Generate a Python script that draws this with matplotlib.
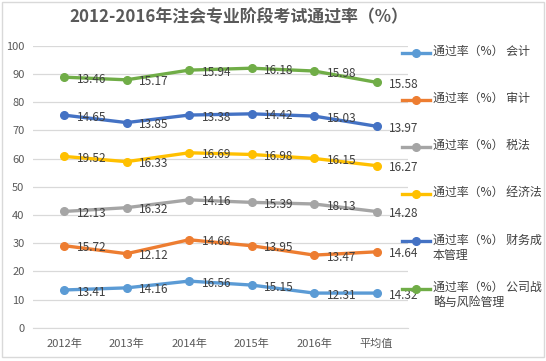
import matplotlib
matplotlib.use('Agg')
import matplotlib.pyplot as plt
from matplotlib.lines import Line2D
from matplotlib.patches import Rectangle
import numpy as np

plt.rcParams['font.family'] = ['Noto Sans CJK SC', 'DejaVu Sans']

categories = ['2012年', '2013年', '2014年', '2015年', '2016年', '平均值']

# 通过率（%），作为数据标签显示
kuaiji = [13.41, 14.16, 16.56, 15.15, 12.31, 14.32]
shenji = [15.72, 12.12, 14.66, 13.95, 13.47, 14.64]
shuifa = [12.13, 16.32, 14.16, 15.39, 18.13, 14.28]
jingjifa = [19.52, 16.33, 16.69, 16.98, 16.15, 16.27]
caiwu = [14.65, 13.85, 13.38, 14.42, 15.03, 13.97]
gongsi = [13.46, 15.17, 15.94, 16.18, 15.98, 15.58]

# 原图中“会计”平均值那一点画在 12.31 处（标签仍为 14.32）
kuaiji_plotted = [13.41, 14.16, 16.56, 15.15, 12.31, 12.31]

names = ['通过率（%） 会计', '通过率（%） 审计', '通过率（%） 税法',
         '通过率（%） 经济法', '通过率（%） 财务成\n本管理', '通过率（%） 公司战\n略与风险管理']
colors = ['#5B9BD5', '#ED7D31', '#A5A5A5', '#FFC000', '#4472C4', '#70AD47']

labels = [kuaiji, shenji, shuifa, jingjifa, caiwu, gongsi]
plotted = [kuaiji_plotted, shenji, shuifa, jingjifa, caiwu, gongsi]

fig = plt.figure(figsize=(5.46, 3.61), dpi=100)
ax = fig.add_axes([0.060, 0.092, 0.687, 0.781])

x = np.arange(len(categories))
cum = np.zeros(len(categories))
for vals, lab, c in zip(plotted, labels, colors):
    cum = cum + np.array(vals)
    ax.plot(x, cum, color=c, lw=2.4, marker='o', ms=5.5, zorder=3)
    for xi, yi, t in zip(x, cum, lab):
        ax.annotate(f'{t:.2f}', (xi, yi), xytext=(9, -1.5), textcoords='offset points',
                    ha='left', va='center', fontsize=8.5, color='#404040', zorder=4)

ax.set_xlim(-0.5, 5.5)
ax.set_ylim(0, 100)
ax.set_yticks(range(0, 101, 10))
ax.set_xticks(x)
ax.set_xticklabels(categories)
ax.tick_params(length=0, labelsize=8, colors='#595959', pad=8)
ax.tick_params(axis='y', pad=6)
ax.grid(axis='y', color='#D9D9D9', lw=0.9)
ax.set_axisbelow(True)
for s in ['top', 'right', 'left']:
    ax.spines[s].set_visible(False)
ax.spines['bottom'].set_color('#D9D9D9')

fig.text(0.438, 0.952, '2012-2016年注会专业阶段考试通过率（%）', ha='center', va='center',
         fontsize=12.2, fontweight='bold', color='#595959')

# 图例（手动排布）
W, H = 546, 361
for i, (name, c) in enumerate(zip(names, colors)):
    yp = 52.5 + i * 47.2
    fy = 1 - yp / H
    fig.add_artist(Line2D([402 / W, 430 / W], [fy, fy], color=c, lw=2.4,
                          transform=fig.transFigure))
    fig.add_artist(Line2D([416 / W], [fy], color=c, marker='o', ms=5.5,
                          transform=fig.transFigure))
    fig.text(433 / W, 1 - (yp - 7.8) / H, name, ha='left', va='top', fontsize=8.6,
             color='#404040', linespacing=1.2)

fig.add_artist(Rectangle((0.003, 0.01), 0.994, 0.985, transform=fig.transFigure,
                         fill=False, edgecolor='#D9D9D9', lw=1))

fig.savefig('out.png', dpi=100)
